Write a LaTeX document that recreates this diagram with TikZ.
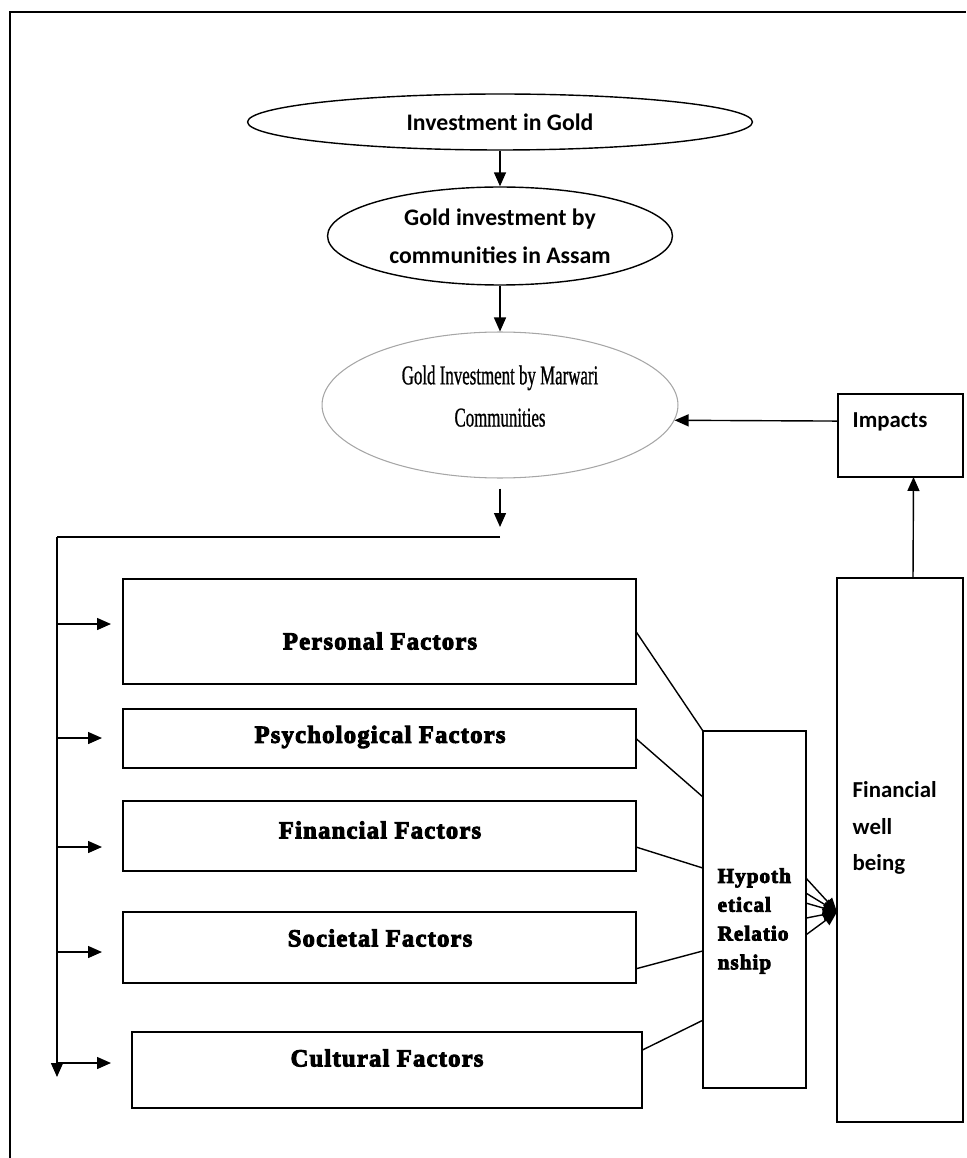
\documentclass[tikz,border=0pt]{standalone}
\usepackage{fontspec}
\setmainfont{Liberation Serif}
\newfontfamily\calibrifont{Carlito}
\newfontfamily\heavyfont[UprightFont={* Bold}, FakeBold=4, LetterSpace=5]{Liberation Serif}
\newfontfamily\narrowfont[FakeStretch=0.62,FakeBold=0.8]{Liberation Serif}
\usetikzlibrary{shapes.geometric,arrows.meta,calc}
\tikzset{
  oval/.style={draw, ellipse, inner sep=0pt, align=center, line width=0.8pt},
  box/.style={draw, rectangle, inner sep=0pt, outer sep=0pt, line width=0.8pt},
  factorbox/.style={box, minimum width=10.26cm},
  factortext/.style={font=\heavyfont\fontsize{14}{16}\selectfont},
  sidetext/.style={font=\calibrifont\bfseries\fontsize{13}{20.7}\selectfont, align=left, anchor=west, inner sep=0pt},
  hypotext/.style={font=\heavyfont\fontsize{12}{16.4}\selectfont, align=left, anchor=west, inner sep=0pt},
}
\begin{document}
\begin{tikzpicture}[x=0.02cm, y=-0.02cm, >={Triangle[length=2.8mm,width=2.4mm]}, line width=0.8pt]
\useasboundingbox (0,0) rectangle (966,1158);
% frame
\draw[line width=1.2pt] (10,1158) -- (10,12) -- (966,12);
% ovals
\node[oval, minimum width=10.1cm, minimum height=1.12cm, font=\calibrifont\bfseries\fontsize{13.5}{16}\selectfont] (gold) at (500,122) {Investment in Gold};
\node[oval, minimum width=6.9cm, minimum height=1.96cm, font=\calibrifont\bfseries\fontsize{13.5}{21.5}\selectfont] (assam) at (500,236) {Gold investment by\\communities in Assam};
\node[oval, draw=gray!70, line width=0.6pt, minimum width=7.12cm, minimum height=2.92cm, text depth=0.36cm, font=\narrowfont\fontsize{15.5}{24}\selectfont] (marwari) at (500,405) {Gold Investment by Marwari\\Communities};
\draw[->] (gold) -- (assam);
\draw[->] (assam) -- (marwari);
% right column
\node[box, minimum width=2.5cm, minimum height=1.66cm] (impacts) at (900.5,435.5) {};
\node[sidetext] (impactstext) at (852,422) {Impacts};
\node[box, minimum width=2.52cm, minimum height=10.88cm] (fwb) at (900,850) {};
\node[sidetext] (fwbtext) at (852,828) {Financial\\well\\being};
\node[box, minimum width=2.06cm, minimum height=7.14cm] (hypo) at (754.5,909.5) {};
\node[hypotext] (hypolabel) at (717,921) {Hypoth\\etical\\Relatio\\nship};
\draw[->] (impacts.167) -- (marwari.-5);
\draw[->] ([xshift=0.26cm]fwb.north) -- ([xshift=0.26cm]impacts.south);
% factor boxes
\node[factorbox, minimum height=2.1cm] (personal) at (379.5,631.5) {};
\node[factorbox, minimum height=1.18cm] (psych) at (379.5,738.5) {};
\node[factorbox, minimum height=1.4cm] (financial) at (379.5,836) {};
\node[factorbox, minimum height=1.42cm] (societal) at (379.5,947.5) {};
\node[factorbox, minimum width=10.2cm, minimum height=1.52cm] (cultural) at (387,1070) {};
\node[factortext] (personaltext) at (380,641) {Personal Factors};
\node[factortext] (psychtext) at (380,737) {Psychological Factors};
\node[factortext] (financialtext) at (380,830) {Financial Factors};
\node[factortext] (societaltext) at (380,938) {Societal Factors};
\node[factortext] (culturaltext) at (387,1058) {Cultural Factors};
% branching line
\coordinate (drop) at (500,527);
\coordinate (trunktop) at (500,537);
\coordinate (corner) at (57,537);
\coordinate (trunkend) at (57,1077);
\draw[->] ([yshift=-0.2cm]marwari.south) -- (drop);
\draw (trunktop) -- (corner);
\draw[->] (corner) -- (trunkend);
\foreach \y/\x in {624/111, 738/102, 847/102, 952/102, 1063/111}
  \draw[->] (57,\y) -- (\x,\y);
% factors to hypothetical relationship
\draw (personal.east) -- (hypo.north west);
\draw (psych.east) -- ($(hypo.north west)!0.185!(hypo.south west)$);
\draw ($(financial.north east)!0.657!(financial.south east)$) -- ($(hypo.north west)!0.384!(hypo.south west)$);
\draw ($(societal.north east)!0.8!(societal.south east)$) -- ($(hypo.north west)!0.616!(hypo.south west)$);
\draw ($(cultural.north east)!0.24!(cultural.south east)$) -- ($(hypo.north west)!0.81!(hypo.south west)$);
% hypothetical relationship to well being
\coordinate (tip) at ($(fwb.north west)!0.614!(fwb.south west)$);
\foreach \t in {0.412,0.454,0.482,0.524,0.571}
  \draw[->] ($(hypo.north east)!\t!(hypo.south east)$) -- (tip);
\end{tikzpicture}
\end{document}
